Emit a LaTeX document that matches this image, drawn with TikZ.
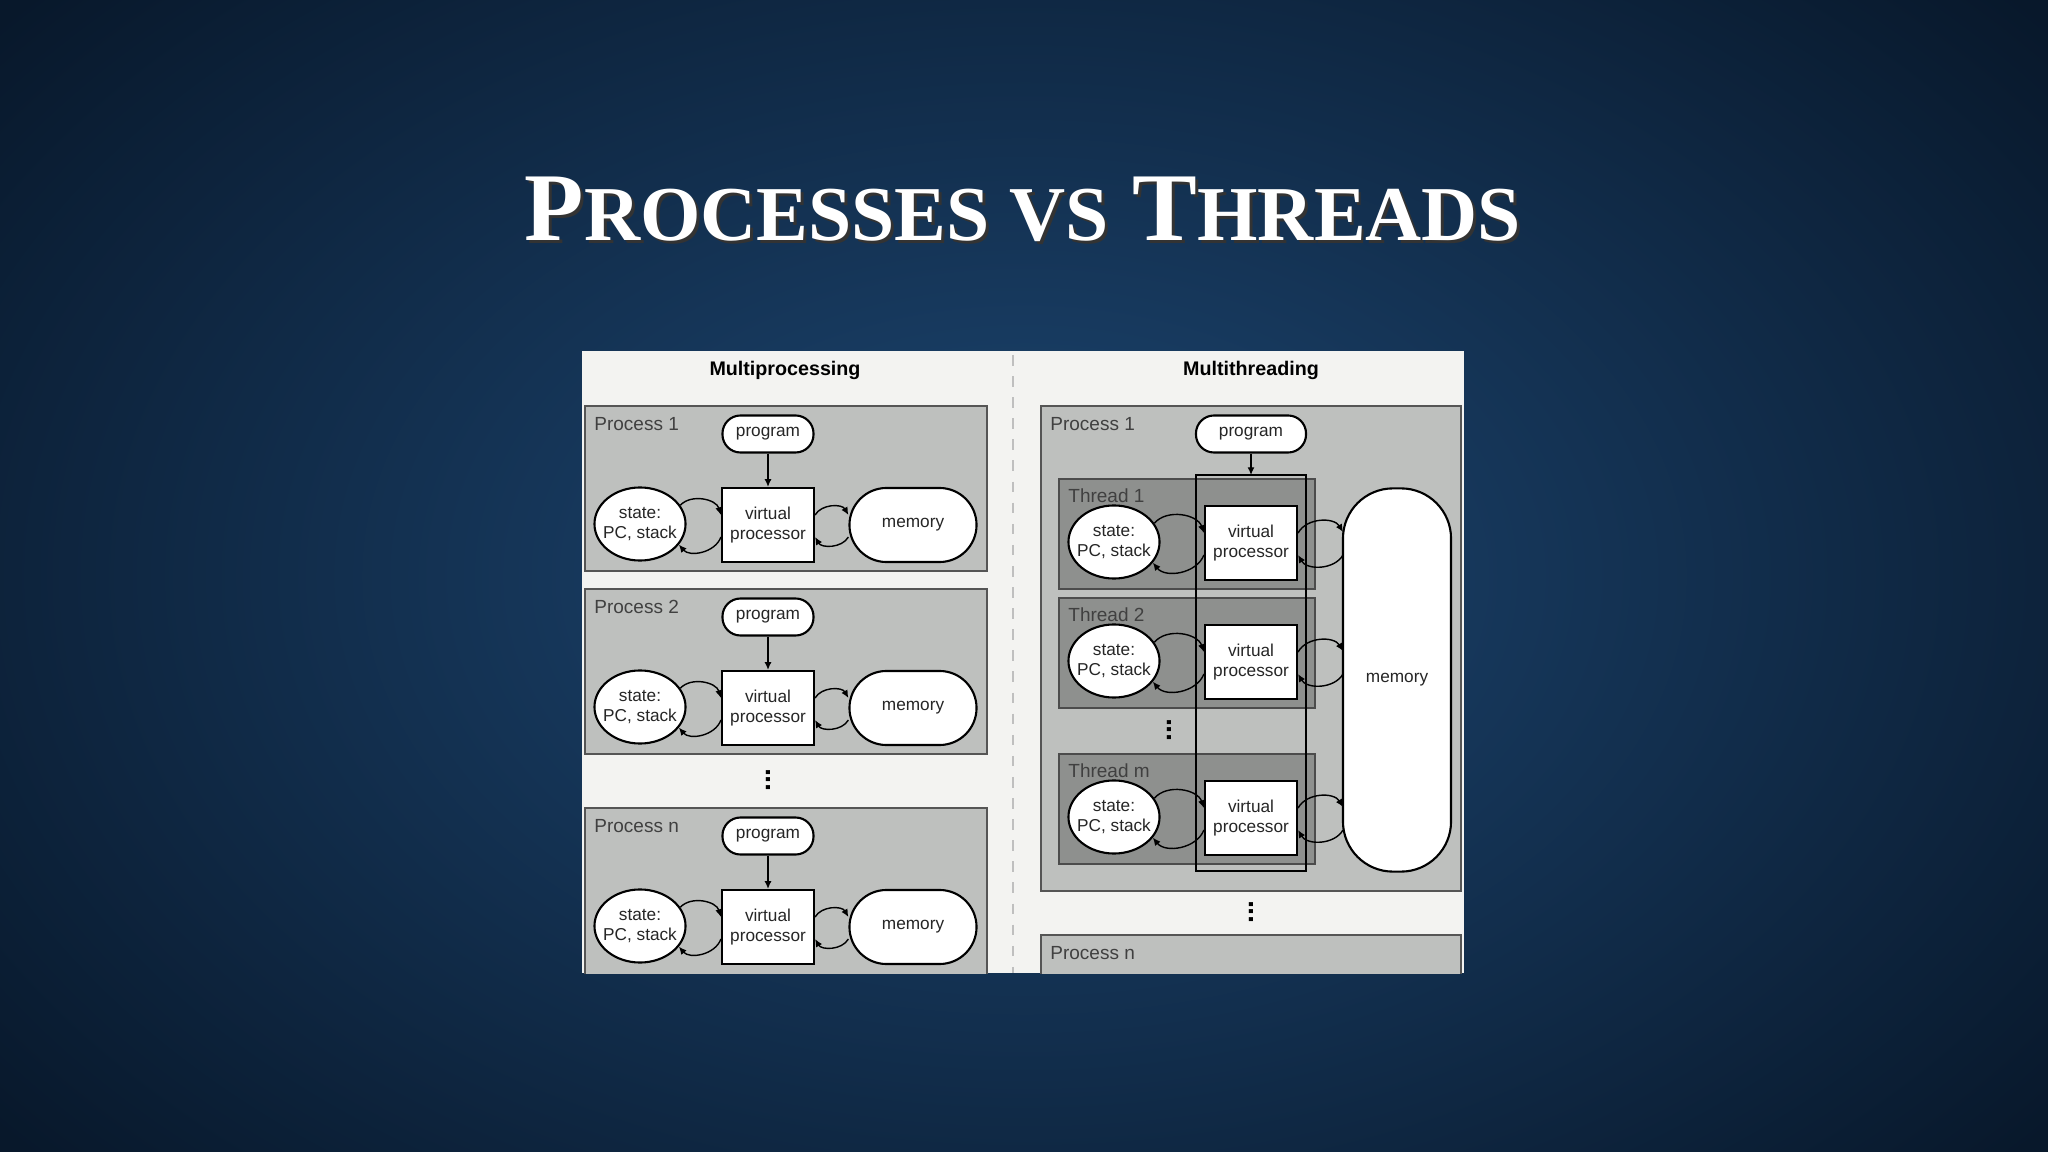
\documentclass[tikz,border=0pt]{standalone}
\usepackage{fontspec}
\setmainfont{Liberation Serif}
\setsansfont{Liberation Sans}
\usetikzlibrary{arrows.meta,shapes.geometric}
\definecolor{bgin}{HTML}{1D4773}
\definecolor{bgout}{HTML}{08182B}
\definecolor{panel}{HTML}{F3F3F1}
\definecolor{procfill}{HTML}{BEC0BE}
\definecolor{thrfill}{HTML}{8E908E}
\definecolor{frame}{HTML}{555555}
\tikzset{
  every node/.style={font=\sffamily\fontsize{4.9pt}{5.6pt}\selectfont, align=center, text=black!85},
  procbox/.style={draw=frame, line width=0.5pt, fill=procfill},
  thrbox/.style={draw=black!70, line width=0.5pt, fill=thrfill},
  prog/.style={draw=black, line width=0.6pt, fill=white, rounded corners=0.18cm, minimum width=0.91cm, minimum height=0.37cm, inner sep=0pt},
  vproc/.style={draw=black, line width=0.6pt, fill=white, minimum width=0.92cm, minimum height=0.74cm, inner sep=0pt},
  stat/.style={draw=black, line width=0.6pt, fill=white, ellipse, minimum width=0.91cm, minimum height=0.73cm, inner sep=-2pt},
  mem/.style={draw=black, line width=0.6pt, fill=white, rounded corners=0.37cm, minimum width=1.27cm, minimum height=0.74cm, inner sep=0pt},
  arr/.style={-{Latex[length=2.2pt,width=2pt]}, line width=0.4pt},
  lbl/.style={anchor=west, text=black!75, font=\sffamily\fontsize{5.4pt}{6pt}\selectfont},
  dots/.style={font=\sffamily\bfseries\fontsize{8pt}{8pt}\selectfont, text=black},
  titl/.style={font=\rmfamily\bfseries\fontsize{27.6pt}{32pt}\selectfont},
}
\begin{document}
\begin{tikzpicture}[x=0.01cm,y=-0.01cm]
\useasboundingbox (0,0) rectangle (2048,1152);
\shade[inner color=bgin, outer color=bgout] (-300,-300) rectangle (2348,1452);
\node[titl, text=black!80] (titsh) at (1026,212) {P\scalebox{0.8}{ROCESSES VS} T\scalebox{0.8}{HREADS}};
\node[titl, text=white] (tit) at (1023,209) {P\scalebox{0.8}{ROCESSES VS} T\scalebox{0.8}{HREADS}};
% panel
\fill[panel] (582,351) rectangle (1464,973);
\draw[dashed, gray!50, line width=0.4pt] (1013,355) -- (1013,973);
\node[font=\sffamily\bfseries\fontsize{5.6pt}{7pt}\selectfont, text=black] (mp) at (785,370) {Multiprocessing};
\node[font=\sffamily\bfseries\fontsize{5.6pt}{7pt}\selectfont, text=black] (mt) at (1251,370) {Multithreading};
% left processes
\foreach \n/\t/\b/\lab in {a/406/571/Process 1, b/589/754/Process 2, c/808/980/Process n}{
  \begin{scope}
  \clip (580,350) rectangle (1000,973);
  \draw[procbox] (585,\t) rectangle (987,\b);
  \end{scope}
  \node[lbl] (pl\n) at (582,\t+18) {\lab};
  \node[prog] (pg\n) at (768,\t+28) {program};
  \node[vproc] (vp\n) at (768,\t+119) {virtual\\processor};
  \node[stat] (st\n) at (640,\t+118) {state:\\PC, stack};
  \node[mem] (me\n) at (913,\t+119) {memory};
  \draw[arr] (pg\n) -- (vp\n);
  \draw[arr] (st\n.25) to[bend left=60] ([yshift=0.1cm]vp\n.west);
  \draw[arr] ([yshift=-0.12cm]vp\n.west) to[bend left=60] (st\n.-28);
  \draw[arr] ([yshift=0.1cm]vp\n.east) to[bend left=60] ([yshift=0.1cm]me\n.west);
  \draw[arr] ([yshift=-0.12cm]me\n.west) to[bend left=60] ([yshift=-0.12cm]vp\n.east);
}
\node[dots] (dl) at (768,780) {\rotatebox{90}{...}};
% right
\draw[procbox] (1041,406) rectangle (1461,891);
\node[lbl] (rpl) at (1038,424) {Process 1};
\node[prog, minimum width=1.1cm] (rpg) at (1251,434) {program};
\foreach \n/\t/\lab in {a/479/Thread 1, b/598/Thread 2, c/754/Thread m}{
  \draw[thrbox] (1059,\t) rectangle (1315,\t+110);
  \node[lbl] (tl\n) at (1056,\t+17) {\lab};
}
\draw[black, line width=0.8pt] (1196,475) rectangle (1306,871);
\node[mem, minimum width=1.08cm, minimum height=3.83cm, rounded corners=0.5cm] (rme) at (1397,680) {memory};
\foreach \n/\t in {a/479, b/598, c/754}{
  \node[vproc] (tv\n) at (1251,\t+64) {virtual\\processor};
  \node[stat] (ts\n) at (1114,\t+63) {state:\\PC, stack};
  \draw[arr] (ts\n.25) to[bend left=60] ([yshift=0.1cm]tv\n.west);
  \draw[arr] ([yshift=-0.12cm]tv\n.west) to[bend left=60] (ts\n.-28);
  \coordinate (mt\n) at (1343,\t+53);
  \coordinate (mb\n) at (1343,\t+76);
  \draw[arr] ([yshift=0.1cm]tv\n.east) to[bend left=60] (mt\n);
  \draw[arr] (mb\n) to[bend left=60] ([yshift=-0.12cm]tv\n.east);
}
\coordinate (thtop) at (1251,475);
\draw[arr] (rpg) -- (thtop);
\node[dots] (dr1) at (1169,730) {\rotatebox{90}{...}};
\node[dots] (dr2) at (1251,912) {\rotatebox{90}{...}};
\begin{scope}
\clip (1030,930) rectangle (1470,973);
\draw[procbox] (1041,935) rectangle (1461,985);
\end{scope}
\node[lbl] (rpn) at (1038,953) {Process n};
\end{tikzpicture}
\end{document}
